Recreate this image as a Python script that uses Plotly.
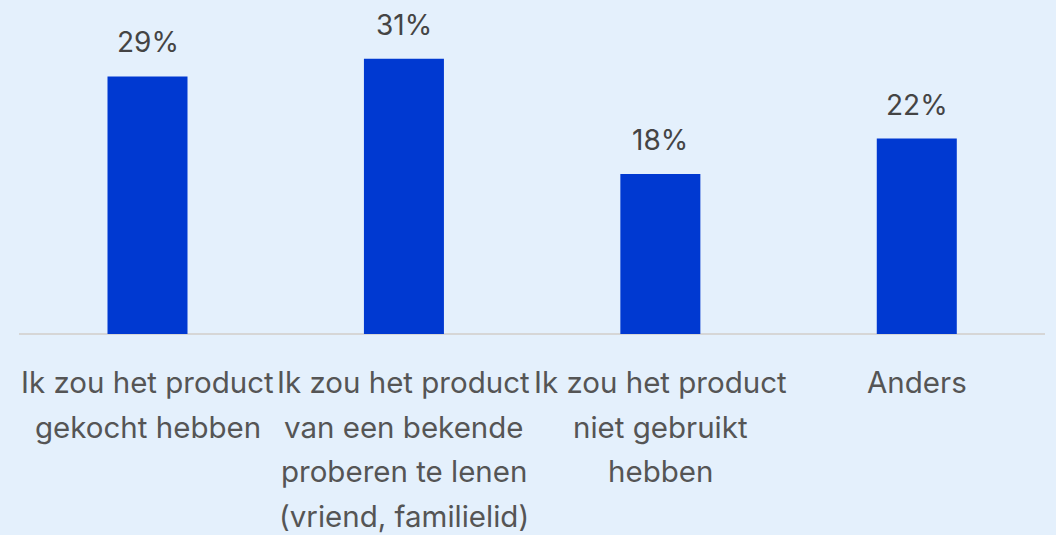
import plotly.graph_objects as go

categories = [
    "Ik zou het product gekocht hebben",
    "Ik zou het product van een bekende proberen te lenen (vriend, familielid)",
    "Ik zou het product niet gebruikt hebben",
    "Anders",
]
label_lines = [
    ["Ik zou het product", "gekocht hebben"],
    ["Ik zou het product", "van een bekende", "proberen te lenen", "(vriend, familielid)"],
    ["Ik zou het product", "niet gebruikt", "hebben"],
    ["Anders"],
]
values = [29, 31, 18, 22]
value_labels = ["29%", "31%", "18%", "22%"]

BG = "#E4F0FC"
BAR = "#0039D1"
FONT = "Inter"

fig = go.Figure()
fig.add_trace(go.Bar(
    x=categories, y=values,
    marker=dict(color=BAR, line=dict(width=0)),
    width=0.312, hoverinfo="skip",
))

annotations = []
for c, v, t in zip(categories, values, value_labels):
    annotations.append(dict(
        x=c, y=v, xref="x", yref="y", text=t, showarrow=False,
        yanchor="middle", yshift=34,
        font=dict(family=FONT, size=28, color="#444444"),
    ))
for c, lines in zip(categories, label_lines):
    for i, ln in enumerate(lines):
        annotations.append(dict(
            x=c, y=0, xref="x", yref="paper", text=ln, showarrow=False,
            yanchor="middle", yshift=-(48 + 44.7 * i),
            font=dict(family=FONT, size=29.5, color="#555555"),
        ))

fig.update_layout(
    width=1056, height=535,
    margin=dict(l=19, r=11, t=0, b=201),
    paper_bgcolor=BG, plot_bgcolor=BG,
    showlegend=False,
    annotations=annotations,
    xaxis=dict(showticklabels=False, showgrid=False, zeroline=False,
               showline=False, fixedrange=True),
    yaxis=dict(range=[0, 37.6], showticklabels=False, showgrid=False,
               showline=False, ticks="",
               zeroline=True, zerolinecolor="#D6D6D6", zerolinewidth=2,
               fixedrange=True),
)
fig.write_html("out.html")
